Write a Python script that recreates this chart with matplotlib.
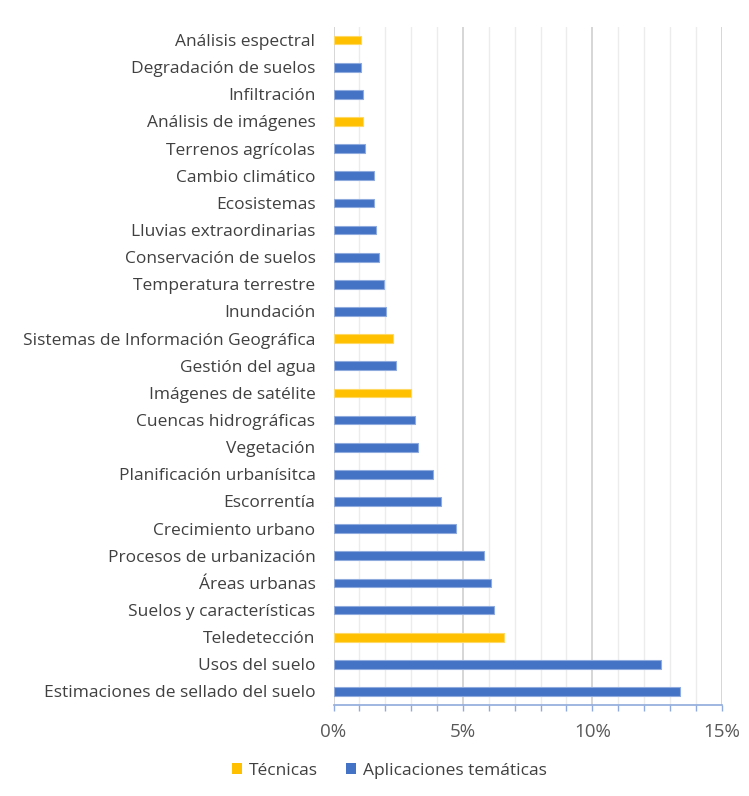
import numpy as np
import matplotlib.pyplot as plt
from matplotlib.ticker import MultipleLocator, PercentFormatter
from matplotlib.patches import Patch

# categorías de abajo hacia arriba
categorias = ['Estimaciones de sellado del suelo', 'Usos del suelo', 'Teledetección',
              'Suelos y características', 'Áreas urbanas', 'Procesos de urbanización',
              'Crecimiento urbano', 'Escorrentía', 'Planificación urbanísitca',
              'Vegetación', 'Cuencas hidrográficas', 'Imágenes de satélite',
              'Gestión del agua', 'Sistemas de Información Geográfica', 'Inundación',
              'Temperatura terrestre', 'Conservación de suelos', 'Lluvias extraordinarias',
              'Ecosistemas', 'Cambio climático', 'Terrenos agrícolas',
              'Análisis de imágenes', 'Infiltración', 'Degradación de suelos',
              'Análisis espectral']
valores = [13.38, 12.67, 6.59, 6.19, 6.07, 5.80, 4.72, 4.17, 3.83, 3.25, 3.16, 2.99,
           2.43, 2.30, 2.03, 1.95, 1.75, 1.64, 1.56, 1.56, 1.22, 1.13, 1.13, 1.06, 1.06]
tipo = ['A', 'A', 'T', 'A', 'A', 'A', 'A', 'A', 'A', 'A', 'A', 'T',
        'A', 'T', 'A', 'A', 'A', 'A', 'A', 'A', 'A', 'T', 'A', 'A', 'T']

amarillo = '#FFC000'
azul = '#4472C4'
colores = [amarillo if t == 'T' else azul for t in tipo]
bordes = ['#FFD966' if t == 'T' else '#8FAADC' for t in tipo]

plt.rcParams['font.family'] = ['Open Sans', 'DejaVu Sans']

fig = plt.figure(figsize=(7.49, 7.96), dpi=100)
ax = fig.add_axes([0.4453, 0.1143, 0.5183, 0.8524])

y = np.arange(len(categorias))
ax.barh(y, valores, height=0.32, color=colores, edgecolor=bordes, linewidth=0.8, zorder=3)

ax.set_xlim(0, 15)
ax.set_ylim(-0.5, len(categorias) - 0.5)
ax.xaxis.set_major_locator(MultipleLocator(5))
ax.xaxis.set_minor_locator(MultipleLocator(1))
ax.xaxis.set_major_formatter(PercentFormatter(decimals=0))
ax.grid(axis='x', which='major', color='#D0D0D0', linewidth=1.2, zorder=0)
ax.grid(axis='x', which='minor', color='#ECECEC', linewidth=1.0, zorder=0)

ax.set_yticks(y)
ax.set_yticklabels(categorias, fontsize=12.5, color='#404040')
ax.tick_params(axis='y', length=0, pad=13)
ax.tick_params(axis='x', which='both', colors='#8FAADC', length=4, width=1,
               labelcolor='#595959', labelsize=13.5, pad=9)

for s in ['top', 'right', 'left']:
    ax.spines[s].set_visible(False)
ax.spines['bottom'].set_color('#8FAADC')
ax.spines['bottom'].set_linewidth(1.2)

handles = [Patch(facecolor=amarillo, label='Técnicas'),
           Patch(facecolor=azul, label='Aplicaciones temáticas')]
fig.legend(handles=handles, loc='center', bbox_to_anchor=(0.52, 0.032), ncol=2,
           frameon=False, fontsize=12.5, handlelength=0.6, handleheight=0.6,
           handletextpad=0.4, columnspacing=1.6, labelcolor='#404040')

fig.savefig('out.png', dpi=100)
